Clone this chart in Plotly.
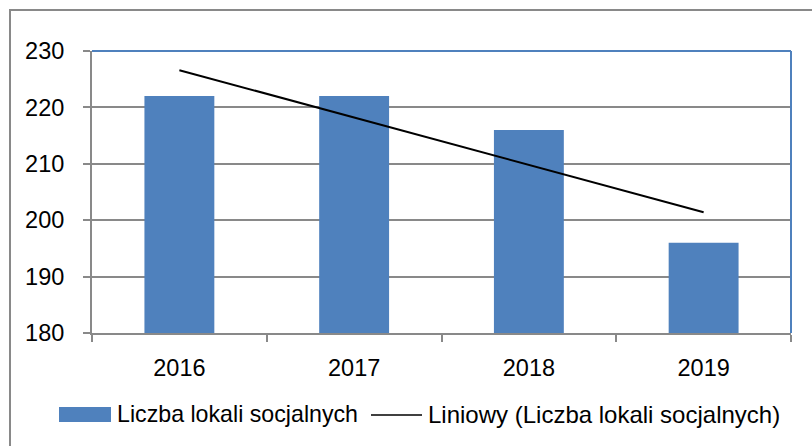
import numpy as np
import plotly.graph_objects as go

# ---- data ----
years = ["2016", "2017", "2018", "2019"]
lokale = [222, 222, 216, 196]
series_name = "Liczba lokali socjalnych"
trend_name = "Liniowy (Liczba lokali socjalnych)"
y_ticks = [180, 190, 200, 210, 220, 230]

# linear trend (least squares fit of the series)
xi = np.arange(len(years))
slope, intercept = np.polyfit(xi, lokale, 1)
trend = list(slope * xi + intercept)

W, H = 812, 446
L, R, T, B = 92, 791, 51, 333
FONT = "Liberation Sans, Arial, sans-serif"
BLUE = "#4F81BD"
GRAY = "#898989"


def px(x):
    return (x - L) / (R - L)


def py(y):
    return (B - y) / (B - T)


fig = go.Figure()
fig.add_trace(go.Bar(x=years, y=lokale, width=0.4, marker=dict(color=BLUE, line=dict(width=0)),
                     name=series_name, showlegend=False))
fig.add_trace(go.Scatter(x=years, y=trend, mode="lines", line=dict(color="black", width=2),
                         name=trend_name, showlegend=False))

shapes = [
    # outer chart border (cropped at right/bottom)
    dict(type="rect", xref="paper", yref="paper", x0=px(10), x1=px(830), y0=py(470), y1=py(10),
         line=dict(color=GRAY, width=2), fillcolor="rgba(0,0,0,0)", layer="below"),
    # plot area top/right border in blue
    dict(type="line", xref="paper", yref="paper", x0=0, x1=1, y0=1, y1=1,
         line=dict(color=BLUE, width=2), layer="above"),
    dict(type="line", xref="paper", yref="paper", x0=1, x1=1, y0=0, y1=1,
         line=dict(color=BLUE, width=2), layer="above"),
    # legend symbols
    dict(type="rect", xref="paper", yref="paper", x0=px(59), x1=px(111), y0=py(422), y1=py(407),
         line=dict(width=0), fillcolor=BLUE),
    dict(type="line", xref="paper", yref="paper", x0=px(371), x1=px(422), y0=py(415), y1=py(415),
         line=dict(color="black", width=1.5)),
]

annotations = [
    dict(text=series_name, xref="paper", yref="paper", x=px(115), y=py(414), xanchor="left",
         yanchor="middle", showarrow=False, font=dict(family=FONT, size=23.2, color="black")),
    dict(text=trend_name, xref="paper", yref="paper", x=px(426), y=py(414), xanchor="left",
         yanchor="middle", showarrow=False, font=dict(family=FONT, size=24, color="black")),
]

fig.update_layout(
    width=W, height=H,
    margin=dict(l=L, r=W - R, t=T, b=H - B, pad=0),
    paper_bgcolor="white", plot_bgcolor="white",
    font=dict(family=FONT, size=23.5, color="black"),
    showlegend=False,
    bargap=0.6,
    shapes=shapes,
    annotations=annotations,
    xaxis=dict(type="category", range=[-0.5, 3.5], showgrid=False, showline=True,
               linecolor=GRAY, linewidth=2, ticks="outside", tickson="boundaries",
               ticklen=7, tickcolor=GRAY, tickwidth=2, ticklabelstandoff=13,
               tickfont=dict(family=FONT, size=23.5, color="black"), fixedrange=True),
    yaxis=dict(range=[180, 230], tickvals=y_ticks, showgrid=True, gridcolor=GRAY, gridwidth=1.5,
               showline=True, linecolor=GRAY, linewidth=2, ticks="outside", ticklen=7,
               tickcolor=GRAY, tickwidth=2, ticklabelstandoff=14, zeroline=False,
               tickfont=dict(family=FONT, size=23.5, color="black"), fixedrange=True),
)

fig.write_html(
    "out.html",
    config={"displayModeBar": False},
    post_script="document.body.style.margin='0';document.body.style.overflow='hidden';",
)
